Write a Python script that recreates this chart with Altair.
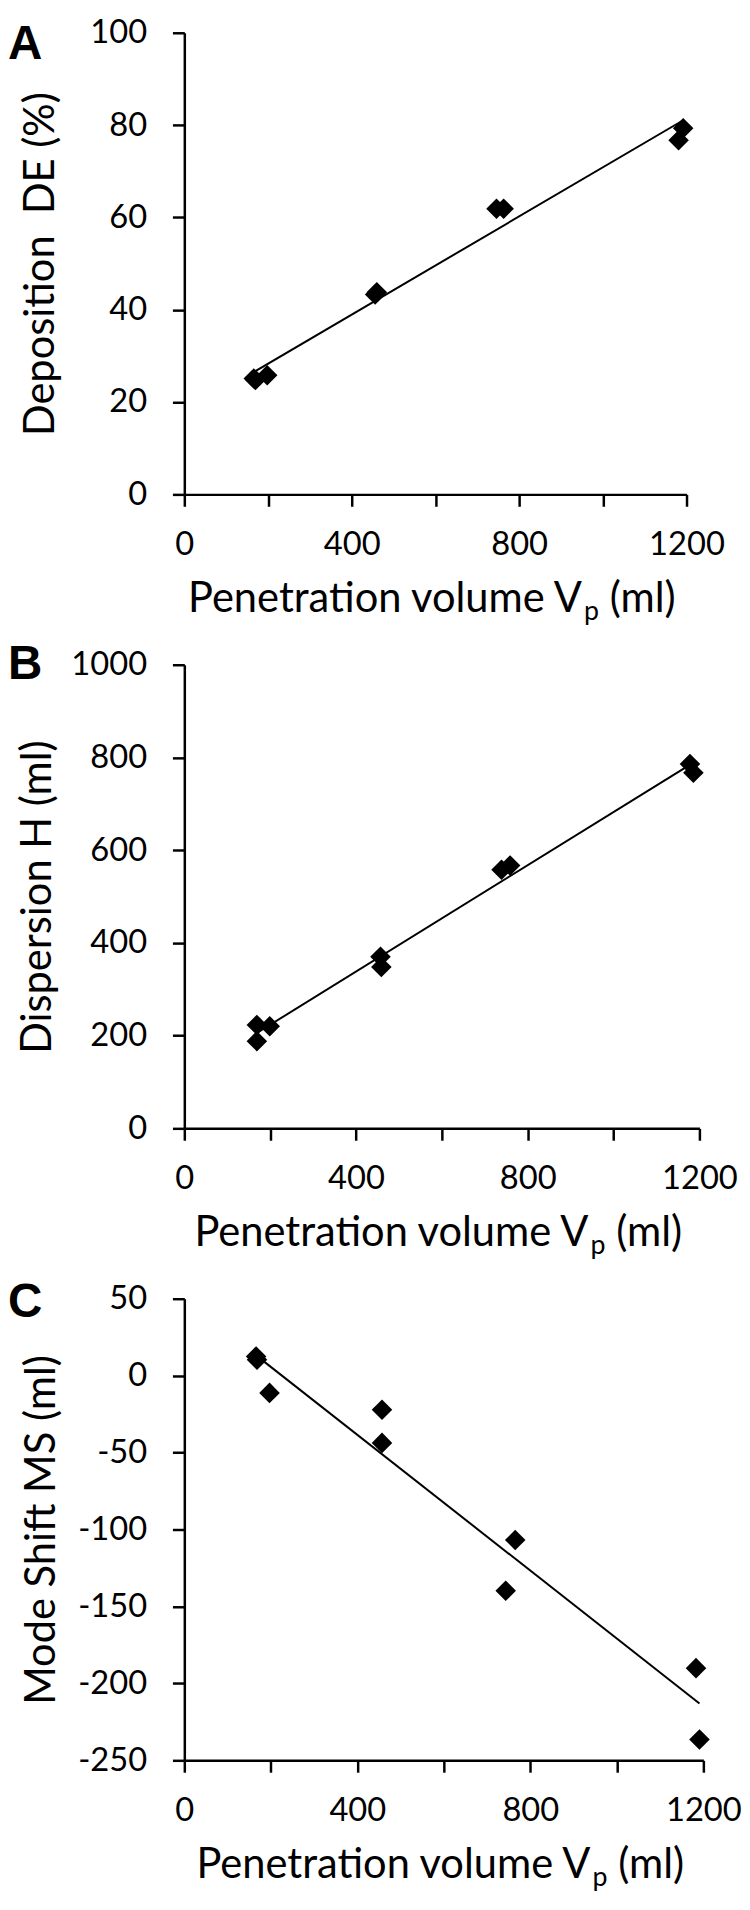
import altair as alt
import pandas as pd

# ---------------- data ----------------
panel_letters = ["A", "B", "C"]

vp_a = [166, 170, 198, 456, 460, 746, 763, 1181, 1192]
de_a = [25.1, 24.8, 25.8, 43.3, 43.8, 61.9, 61.9, 76.7, 79.3]

vp_b = [169, 169, 199, 457, 459, 739, 759, 1178, 1186]
h_b = [223, 188, 220, 370, 348, 558, 567, 786, 767]

vp_c = [166, 168, 197, 457, 457, 743, 765, 1183, 1191]
ms_c = [12.5, 10.4, -11.2, -22.1, -43.7, -139.8, -106.8, -190.1, -236.5]

x_ticks = [0, 200, 400, 600, 800, 1000, 1200]
y_ticks_a = [0, 20, 40, 60, 80, 100]
y_ticks_b = [0, 200, 400, 600, 800, 1000]
y_ticks_c = [-250, -200, -150, -100, -50, 0, 50]

y_titles = ["Deposition\u00a0 DE (%)", "Dispersion H (ml)", "Mode Shift MS (ml)"]
x_title_main = ["Penetration volume V"]
x_title_sub = ["p"]
x_title_end = ["(ml)"]

FONT = "Lato"


def axis_common(**kw):
    return alt.Axis(
        grid=False,
        domainColor="black",
        domainWidth=2.5,
        tickColor="black",
        tickWidth=2.5,
        tickSize=12,
        labelFont=FONT,
        labelFontSize=33,
        labelColor="black",
        labelOverlap=False,
        labelFlush=False,
        format="d",
        **kw,
    )


def panel(xs, ys, letter, ytitle, yticks, width, height, title_x, letter_y):
    df = pd.DataFrame({"vp": xs, "val": ys})
    x_enc = alt.X(
        "vp:Q",
        scale=alt.Scale(domain=[0, 1200], nice=False, zero=False),
        axis=axis_common(
            values=x_ticks,
            labelExpr="datum.value % 400 === 0 ? datum.label : ''",
            labelPadding=23,
            title=None,
        ),
    )
    y_enc = alt.Y(
        "val:Q",
        scale=alt.Scale(domain=[yticks[0], yticks[-1]], nice=False, zero=False),
        axis=axis_common(
            values=yticks,
            labelExpr="replace(datum.label, '\u2212', '-')",
            labelPadding=26,
            title=ytitle,
            titleFont=FONT,
            titleFontSize=42,
            titleFontWeight="normal",
            titleColor="black",
            titleX=title_x,
            titleY=height / 2,
            titleAngle=270,
            titleAlign="center",
            titleBaseline="middle",
        ),
    )
    base = alt.Chart(df)
    line = base.transform_regression("vp", "val").mark_line(
        color="black", strokeWidth=2
    ).encode(x=x_enc, y=y_enc)
    pts = base.mark_point(
        shape="diamond", filled=True, size=430, color="black", opacity=1
    ).encode(x=x_enc, y=y_enc)

    letter_t = alt.Chart(pd.DataFrame({"t": [letter]})).mark_text(
        align="left", baseline="alphabetic", font="Liberation Sans",
        fontWeight="bold", fontSize=48, color="black"
    ).encode(text="t:N", x=alt.value(-178), y=alt.value(letter_y))

    cx = width / 2
    t_main = alt.Chart(pd.DataFrame({"t": x_title_main})).mark_text(
        align="right", baseline="alphabetic", font=FONT, fontSize=42, color="black"
    ).encode(text="t:N", x=alt.value(cx + 148), y=alt.value(height + 119))
    t_sub = alt.Chart(pd.DataFrame({"t": x_title_sub})).mark_text(
        align="left", baseline="alphabetic", font=FONT, fontSize=27, color="black"
    ).encode(text="t:N", x=alt.value(cx + 150), y=alt.value(height + 127))
    t_end = alt.Chart(pd.DataFrame({"t": x_title_end})).mark_text(
        align="left", baseline="alphabetic", font=FONT, fontSize=42, color="black"
    ).encode(text="t:N", x=alt.value(cx + 176), y=alt.value(height + 119))

    return alt.layer(line, pts, letter_t, t_main, t_sub, t_end).properties(
        width=width, height=height
    )


pa = panel(vp_a, de_a, panel_letters[0], y_titles[0], y_ticks_a, 507, 466, -145, 26.5)
pb = panel(vp_b, h_b, panel_letters[1], y_titles[1], y_ticks_b, 520, 468, -148, 14.5)
pc = panel(vp_c, ms_c, panel_letters[2], y_titles[2], y_ticks_c, 524, 466, -144, 18.5)

chart = (
    alt.vconcat(pa, pb, pc, spacing=172, bounds="flush")
    .properties(padding={"top": 0, "left": 0, "right": 0, "bottom": 0})
    .configure_view(stroke=None)
)

chart.save("out.html", embed_options={"renderer": "svg", "actions": False})
